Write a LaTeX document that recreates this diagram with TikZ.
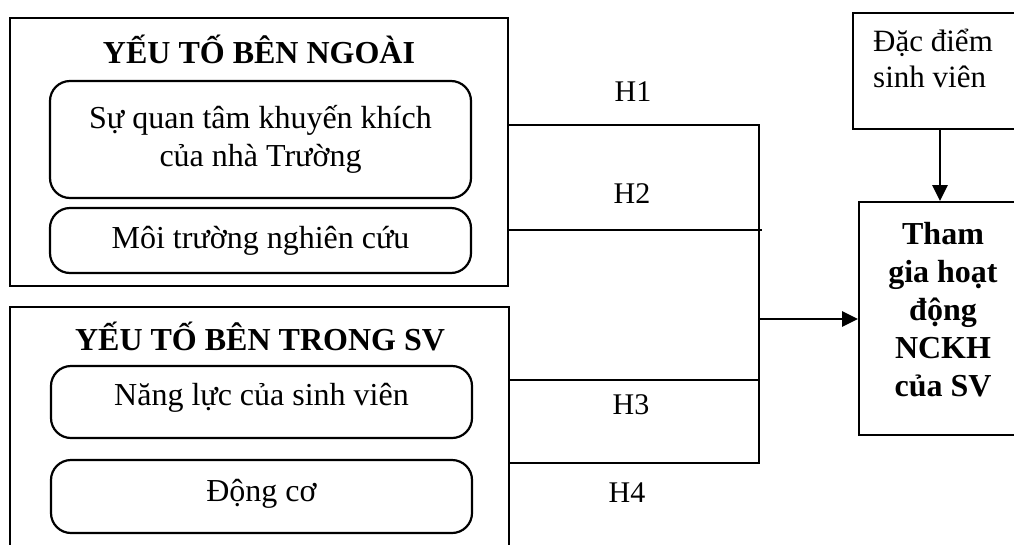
\documentclass[tikz,border=0pt]{standalone}
\usepackage{fontspec}
\setmainfont{Liberation Serif}
\usetikzlibrary{arrows.meta}
\begin{document}
\begin{tikzpicture}[x=1pt,y=-1pt,
  outerbox/.style={draw,line width=1.8pt,rectangle,inner sep=0pt},
  innerbox/.style={draw,line width=2.2pt,rectangle,rounded corners=20pt,inner sep=0pt,font=\fontsize{32}{38}\selectfont,align=center},
  titletext/.style={font=\fontsize{32}{38}\selectfont\bfseries},
  hlabel/.style={font=\fontsize{30}{36}\selectfont},
  conn/.style={line width=1.8pt},
  arr/.style={line width=2.8pt,-{Triangle[length=16pt,width=15pt]}}]
\useasboundingbox (0,0) rectangle (1014,544);
\clip (0,0) rectangle (1014,544);
% left group 1
\node[outerbox,minimum width=498pt,minimum height=268pt] (outer1) at (259,152) {};
\node[titletext] (title1) at (259,49) {YẾU TỐ BÊN NGOÀI};
\node[innerbox,minimum width=421pt,minimum height=117pt] (b1) at (260.5,139.5) {Sự quan tâm khuyến khích\\của nhà Trường};
\node[innerbox,minimum width=421pt,minimum height=65pt] (b2) at (260.5,240.5) {Môi trường nghiên cứu};
% left group 2
\node[outerbox,minimum width=499pt,minimum height=260pt] (outer2) at (259.5,437) {};
\node[titletext] (title2) at (260,336) {YẾU TỐ BÊN TRONG SV};
\node[innerbox,minimum width=421pt,minimum height=72pt] (b3) at (261.5,402) {};
\node[font=\fontsize{32}{38}\selectfont] (t3) at (261.5,398) {Năng lực của sinh viên};
\node[innerbox,minimum width=421pt,minimum height=73pt] (b4) at (261.5,496.5) {};
\node[font=\fontsize{32}{38}\selectfont] (t4) at (261.5,494) {Động cơ};
% right side
\node[outerbox,minimum width=174pt,minimum height=116pt] (dac) at (940,71) {};
\node[anchor=north west,inner sep=0pt,align=left,font=\fontsize{31}{36}\selectfont] (dactext) at (873,29) {Đặc điểm\\sinh viên};
\node[outerbox,minimum width=168pt,minimum height=233pt] (tham) at (943,318.5) {};
\node[titletext,align=center,font=\fontsize{32}{38}\selectfont\bfseries] (thamtext) at (943,310) {Tham\\gia hoạt\\động\\NCKH\\của SV};
% connectors
\coordinate (j1) at (759,125);
\coordinate (j4) at (759,463);
\coordinate (j2) at (762,230);
\coordinate (jm) at (759,319);
\draw[conn] (outer1.east |- j1) -- (j1) -- (j4) -- (outer2.east |- j4);
\draw[conn] (outer1.east |- j2) -- (j2);
\draw[conn] (outer2.east |- 0,380) -- (759,380);
\draw[arr] (jm) -- (tham.west |- jm);
\draw[arr] (dac.south) -- (dac.south |- tham.north);
% labels
\node[hlabel] (h1) at (633,92) {H1};
\node[hlabel] (h2) at (632,194) {H2};
\node[hlabel] (h3) at (631,405) {H3};
\node[hlabel] (h4) at (627,493) {H4};
\end{tikzpicture}
\end{document}
